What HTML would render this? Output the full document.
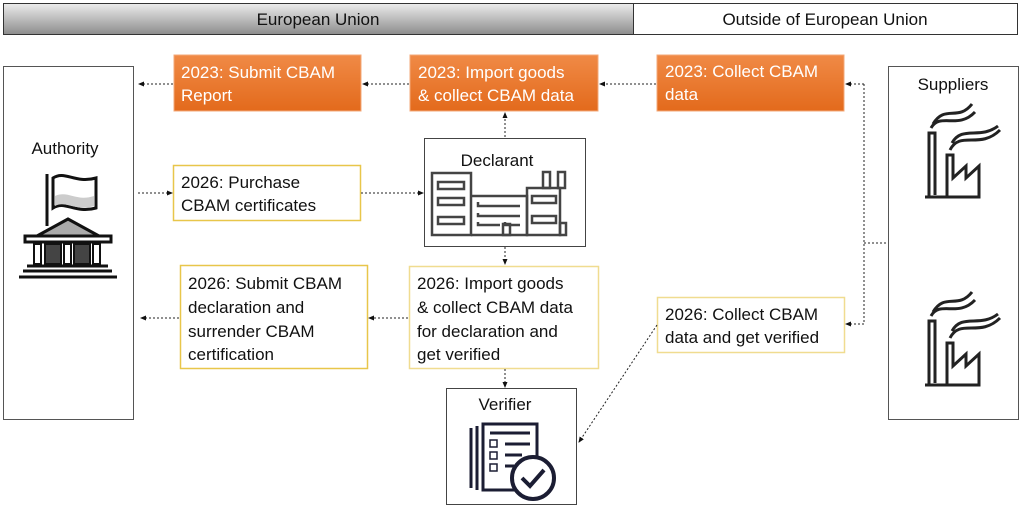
<!DOCTYPE html>
<html><head><meta charset="utf-8"><style>
html,body{margin:0;padding:0;background:#fff;}
svg{display:block;}
text{font-family:"Liberation Sans",sans-serif;font-size:17px;fill:#111;}
.w{fill:#fff;}
</style></head><body>
<svg width="1024" height="508" viewBox="0 0 1024 508" xmlns="http://www.w3.org/2000/svg">
<defs>
<linearGradient id="g" x1="0" y1="0" x2="0" y2="1"><stop offset="0" stop-color="#ececec"/><stop offset="1" stop-color="#8c8c8c"/></linearGradient>
<linearGradient id="o" x1="0" y1="0" x2="0" y2="1"><stop offset="0" stop-color="#f08a46"/><stop offset="1" stop-color="#e36a1c"/></linearGradient>
<marker id="a" markerWidth="6" markerHeight="6" refX="5" refY="3" orient="auto"><path d="M0,0.5 L6,3 L0,5.5z" fill="#111"/></marker>
</defs>
<rect x="3.5" y="3.5" width="630" height="31" fill="url(#g)" stroke="#333"/>
<text x="318" y="25" text-anchor="middle">European Union</text>
<rect x="633.5" y="3.5" width="384" height="31" fill="#fff" stroke="#333"/>
<text x="825" y="25" text-anchor="middle">Outside of European Union</text>
<rect x="3.5" y="66.5" width="130" height="353" fill="#fff" stroke="#555"/>
<text x="65" y="154" text-anchor="middle">Authority</text>
<rect x="888.5" y="66.5" width="130" height="353" fill="#fff" stroke="#555"/>
<text x="953" y="90" text-anchor="middle">Suppliers</text>
<rect x="174" y="55" width="187" height="56" fill="url(#o)" stroke="#f3a878"/>
<text class="w" x="181" y="78">2023: Submit CBAM</text><text class="w" x="181" y="101">Report</text>
<rect x="410" y="55" width="188" height="56" fill="url(#o)" stroke="#f3a878"/>
<text class="w" x="418" y="78">2023: Import goods</text><text class="w" x="418" y="101">&amp; collect CBAM data</text>
<rect x="657" y="55" width="187" height="56" fill="url(#o)" stroke="#f3a878"/>
<text class="w" x="665" y="77">2023: Collect CBAM</text><text class="w" x="665" y="100">data</text>
<rect x="173.5" y="165.5" width="187" height="55" fill="#fff" stroke="#e8c64a" stroke-width="1.5"/>
<text x="181" y="188">2026: Purchase</text><text x="181" y="211">CBAM certificates</text>
<rect x="180.5" y="265.5" width="187" height="103" fill="#fff" stroke="#e8c64a" stroke-width="1.5"/>
<text x="188" y="289">2026: Submit CBAM</text><text x="188" y="313">declaration and</text><text x="188" y="337">surrender CBAM</text><text x="188" y="360">certification</text>
<rect x="409.5" y="266.5" width="189" height="102" fill="#fff" stroke="#f0dc90" stroke-width="1.5"/>
<text x="417" y="289">2026: Import goods</text><text x="417" y="313">&amp; collect CBAM data</text><text x="417" y="337">for declaration and</text><text x="417" y="360">get verified</text>
<rect x="657.5" y="297.5" width="187" height="55" fill="#fff" stroke="#f0dc90" stroke-width="1.5"/>
<text x="665" y="320">2026: Collect CBAM</text><text x="665" y="343">data and get verified</text>
<rect x="424.5" y="138.5" width="161" height="108" fill="#fff" stroke="#444"/>
<text x="497" y="166" text-anchor="middle">Declarant</text>
<g fill="none" stroke="#444" stroke-width="2.5">
<rect x="432" y="173" width="39" height="62"/>
<rect x="438" y="182" width="26" height="7"/><rect x="438" y="198" width="26" height="7"/><rect x="438" y="217" width="26" height="7"/>
<path d="M471,196 H527 V235 H471"/>
<path d="M478,202 V206 H520 M478,213 V216 H520 M478,222 V225 H500 M505,222 V225 H520"/>
<rect x="503" y="224" width="7" height="11"/>
<rect x="527" y="188" width="33" height="47"/>
<rect x="532" y="196" width="24" height="7"/><rect x="532" y="216" width="24" height="7"/>
<rect x="543" y="172" width="7" height="16"/><rect x="558" y="172" width="7" height="16"/>
<rect x="560" y="223" width="6" height="12"/>
</g>
<rect x="446.5" y="388.5" width="130" height="116" fill="#fff" stroke="#444"/>
<text x="505" y="410" text-anchor="middle">Verifier</text>
<g fill="none" stroke="#1b1d33" stroke-width="3">
<path d="M471,428 V488 M477,426 V490"/>
<rect x="483" y="424" width="54" height="66"/>
<path d="M490,433 H530 M505,444 H530 M505,455 H522 M505,466 H514"/>
<rect x="490" y="440" width="7" height="7" stroke-width="1.5"/><rect x="490" y="452" width="7" height="7" stroke-width="1.5"/><rect x="490" y="464" width="7" height="7" stroke-width="1.5"/>
</g>
<circle cx="533" cy="478" r="21" fill="#fff" stroke="#1b1d33" stroke-width="4"/>
<path d="M522,478 L530,486 L544,470" fill="none" stroke="#1b1d33" stroke-width="4"/>
<g>
<path d="M47,174 V226" stroke="#111" stroke-width="3"/>
<path d="M53,178 C65,170 75,184 96,178 V208 C75,214 65,200 53,208 Z" fill="#fff" stroke="#111" stroke-width="3"/>
<path d="M55,196 C68,190 76,202 94,196 V206 C76,212 66,200 55,206Z" fill="#ccc"/>
<path d="M37,236 L68,219 L99,236 Z" fill="#aaa" stroke="#111" stroke-width="3"/>
<rect x="25" y="236" width="86" height="6" fill="#fff" stroke="#111" stroke-width="3"/>
<rect x="34" y="244" width="7" height="20" fill="#fff" stroke="#111" stroke-width="2"/>
<rect x="45" y="244" width="16" height="20" fill="#444" stroke="#111" stroke-width="2"/>
<rect x="64" y="244" width="7" height="20" fill="#fff" stroke="#111" stroke-width="2"/>
<rect x="74" y="244" width="16" height="20" fill="#444" stroke="#111" stroke-width="2"/>
<rect x="93" y="244" width="7" height="20" fill="#fff" stroke="#111" stroke-width="2"/>
<path d="M27,266 H108 M23,271 H112 M19,277 H117" stroke="#111" stroke-width="3"/>
</g>
<g fill="none" stroke="#222" stroke-width="3">
<path d="M929,197 V133 H935 V195 M947,197 V155 H953 V178 L966,166 V178 L979,166 V197 H925"/>
<path d="M931,128 C940,112 958,130 975,112 M933,124 C945,104 958,122 972,104 M950,150 C960,130 980,150 1000,130 M952,143 C962,125 980,140 998,126"/>
<path d="M929,385 V321 H935 V383 M947,385 V343 H953 V366 L966,354 V366 L979,354 V385 H925"/>
<path d="M931,316 C940,300 958,318 975,300 M933,312 C945,292 958,310 972,292 M950,338 C960,318 980,338 1000,318 M952,331 C962,313 980,328 998,314"/>
</g>
<g stroke="#222" stroke-width="1" stroke-dasharray="2,2" fill="none" marker-end="url(#a)">
<path d="M173,84 H139"/>
<path d="M409,84 H363"/>
<path d="M656,84 H600"/>
<path d="M864,84 H846"/>
<path d="M864,324 H846"/>
<path d="M138,193 H172"/>
<path d="M361,193 H423"/>
<path d="M505,137 V113"/>
<path d="M505,247 V264"/>
<path d="M408,318 H369"/>
<path d="M179,318 H141"/>
<path d="M505,369 V387"/>
<path d="M657,325 L579,442"/>
</g>
<path d="M864,84 V324 M864,243 H888" stroke="#222" stroke-width="1" stroke-dasharray="2,2" fill="none"/>
</svg>
</body></html>
